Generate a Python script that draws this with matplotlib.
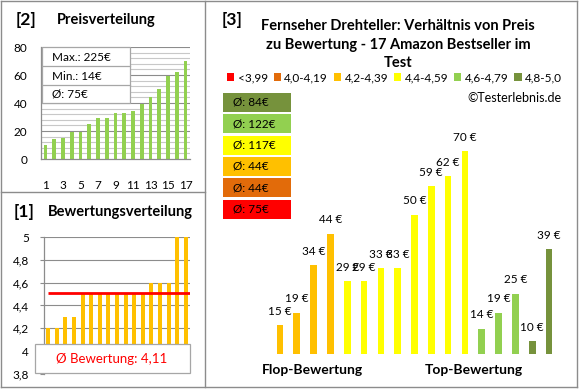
import matplotlib
matplotlib.use("Agg")
import matplotlib.pyplot as plt
from matplotlib.patches import Rectangle, Patch
from matplotlib.lines import Line2D

plt.rcParams['font.family'] = ['Lato', 'DejaVu Sans']

# ---------------- data ----------------
price_idx = list(range(1, 18))
prices_sorted = [10, 14, 15, 19, 19, 25, 29, 29, 33, 33, 34, 39, 44, 50, 59, 62, 70]
price_ticks = [1, 3, 5, 7, 9, 11, 13, 15, 17]
price_stats = ["Max.: 225€", "Min.: 14€", "Ø: 75€"]

ratings_sorted = [4.2, 4.2, 4.3, 4.3, 4.5, 4.5, 4.5, 4.5, 4.5, 4.5, 4.5, 4.5, 4.6, 4.6, 4.6, 5.0, 5.0]
rating_line = 4.51
rating_ticks = [3.8, 4.0, 4.2, 4.4, 4.6, 4.8, 5.0]
rating_tick_labels = ["3,8", "4", "4,2", "4,4", "4,6", "4,8", "5"]
rating_avg_text = "Ø Bewertung: 4,11"

main_ratings = [4.2, 4.2, 4.3, 4.3, 4.5, 4.5, 4.5, 4.5, 4.5, 4.5, 4.5, 4.5, 4.6, 4.6, 4.6, 5.0, 5.0]
main_prices = [15, 19, 34, 44, 29, 29, 33, 33, 50, 59, 62, 70, 14, 19, 25, 10, 39]

range_labels = ["<3,99", "4,0-4,19", "4,2-4,39", "4,4-4,59", "4,6-4,79", "4,8-5,0"]
range_bounds = [4.0, 4.2, 4.4, 4.6, 4.8]
range_colors = ["#FF0000", "#E26B0A", "#FFC000", "#FFFF00", "#92D050", "#76923C"]
range_avgs = ["75€", "44€", "44€", "117€", "122€", "84€"]  # per range, low -> high

title = "Fernseher Drehteller: Verhältnis von Preis\nzu Bewertung - 17 Amazon Bestseller im\nTest"

# ---------------- layout helpers ----------------
W, H = 580, 390
fig = plt.figure(figsize=(W / 100, H / 100), dpi=100)


def rect(x0, y0, x1, y1):
    return [x0 / W, 1 - y1 / H, (x1 - x0) / W, (y1 - y0) / H]


def fx(x):
    return x / W


def fy(y):
    return 1 - y / H


def color_for(r):
    i = 0
    while i < len(range_bounds) and r >= range_bounds[i]:
        i += 1
    return range_colors[i]


border = "#8C8C8C"
for (xa, ya, xb, yb) in [(1, 1, 577, 1), (1, 387, 577, 387), (1, 1, 1, 387), (577, 1, 577, 387),
                         (205, 1, 205, 387), (1, 192, 205, 192)]:
    fig.add_artist(Line2D([fx(xa), fx(xb)], [fy(ya), fy(yb)], color=border, lw=1.0))

# ---------------- panel 2: Preisverteilung ----------------
ax2 = fig.add_axes(rect(41, 47, 190, 159))
ax2.set_xlim(0.5, 17.5)
ax2.set_ylim(0, 80)
for v in range(4, 81, 4):
    ax2.axhline(v, color="#8C8C8C" if v % 20 == 0 else "#C8C8C8", lw=0.8, zorder=0)
ax2.bar(price_idx, prices_sorted, width=0.42, color="#92D050", zorder=2)
ax2.set_xticks(price_ticks)
ax2.set_xticklabels([str(t) for t in price_ticks])
ax2.set_yticks([0, 20, 40, 60, 80])
ax2.tick_params(axis='both', length=0, labelsize=8.5, colors="#000000")
ax2.tick_params(axis='x', pad=15)
ax2.tick_params(axis='y', pad=10)
for s in ['top', 'right']:
    ax2.spines[s].set_visible(False)
for s in ['left', 'bottom']:
    ax2.spines[s].set_color("#8C8C8C")
    ax2.spines[s].set_linewidth(0.9)

fig.add_artist(Rectangle((fx(42), fy(103)), (130 - 42) / W, (103 - 47) / H,
                         facecolor="white", edgecolor="#A6A6A6", lw=0.9, zorder=5))
for yy in [66, 84.5]:
    fig.add_artist(Line2D([fx(42), fx(130)], [fy(yy), fy(yy)], color="#A6A6A6", lw=0.9, zorder=6))
for i, s in enumerate(price_stats):
    fig.text(fx(52), fy(57.5 + i * 18.5), s, fontsize=8.5, va='center', ha='left', zorder=7)

fig.text(fx(16), fy(20), "[2]", fontsize=12.5, fontweight='bold', va='center')
fig.text(fx(57), fy(20), "Preisverteilung", fontsize=10.5, fontweight='bold', va='center')

# ---------------- panel 1: Bewertungsverteilung ----------------
ax1 = fig.add_axes(rect(44, 237, 190, 374))
ax1.set_xlim(-0.5, 16.5)
ax1.set_ylim(3.8, 5.0)
for v in rating_ticks[1:]:
    ax1.axhline(v, color="#8C8C8C", lw=0.8, zorder=0)
ax1.bar(range(len(ratings_sorted)), ratings_sorted, width=0.47, color="#FFC000", zorder=2)
ax1.plot([0, 16.5], [rating_line, rating_line], color="#FF0000", lw=2.0, zorder=3, solid_capstyle='butt')
ax1.set_yticks(rating_ticks)
ax1.set_yticklabels(rating_tick_labels)
ax1.set_xticks([])
ax1.tick_params(axis='y', length=3, color="#8C8C8C", labelsize=8.5, pad=8)
for s in ['top', 'right', 'bottom']:
    ax1.spines[s].set_visible(False)
ax1.spines['left'].set_color("#8C8C8C")
ax1.spines['left'].set_linewidth(0.9)

fig.add_artist(Rectangle((fx(35), fy(373)), (190 - 35) / W, (373 - 344) / H,
                         facecolor="white", edgecolor="#A6A6A6", lw=0.9, zorder=5))
fig.text(fx(112), fy(359), rating_avg_text, fontsize=9.5, color="#FF0000", ha='center', va='center', zorder=6)

fig.text(fx(14), fy(212), "[1]", fontsize=12.5, fontweight='bold', va='center')
fig.text(fx(48), fy(212), "Bewertungsverteilung", fontsize=10.5, fontweight='bold', va='center')

# ---------------- panel 3: main ----------------
ax3 = fig.add_axes(rect(271.6, 119.4, 557.4, 354))
ax3.set_xlim(-0.5, 16.5)
ax3.set_ylim(6, 80)
ax3.axis('off')
xs = list(range(len(main_prices)))
cols = [color_for(r) for r in main_ratings]
ax3.bar(xs, main_prices, width=0.4, color=cols)
for x, v in zip(xs, main_prices):
    ax3.annotate(f"{v} €", (x, v), xytext=(0, 6), textcoords='offset points',
                 ha='center', va='bottom', fontsize=8.5, annotation_clip=False)

fig.text(fx(222), fy(20), "[3]", fontsize=12.5, fontweight='bold', va='center')
fig.text(fx(398), fy(19.5), title, fontsize=10.5, fontweight='bold', ha='center', va='top',
         linespacing=1.38, multialignment='center')

handles = [Patch(facecolor=c, edgecolor='none') for c in range_colors]
fig.legend(handles, range_labels, loc='center', bbox_to_anchor=(fx(394.5), fy(77.5)), ncol=6,
           frameon=False, fontsize=8.5, handlelength=0.6, handleheight=0.6, handletextpad=0.3,
           columnspacing=0.5, borderpad=0, borderaxespad=0)

fig.text(fx(562), fy(98), "©Testerlebnis.de", fontsize=9, ha='right', va='center')

for k, i in enumerate(range(len(range_colors) - 1, -1, -1)):
    y0 = 93 + k * 21.3
    fig.add_artist(Rectangle((fx(223), fy(y0 + 19)), 68 / W, 19 / H,
                             facecolor=range_colors[i], edgecolor='none'))
    fig.text(fx(233), fy(y0 + 9.5), "Ø: " + range_avgs[i], fontsize=8.5, va='center', ha='left')

fig.text(fx(312), fy(370), "Flop-Bewertung", fontsize=10, fontweight='bold', ha='center', va='center')
fig.text(fx(474), fy(370), "Top-Bewertung", fontsize=10, fontweight='bold', ha='center', va='center')

fig.savefig("out.png", dpi=100)
